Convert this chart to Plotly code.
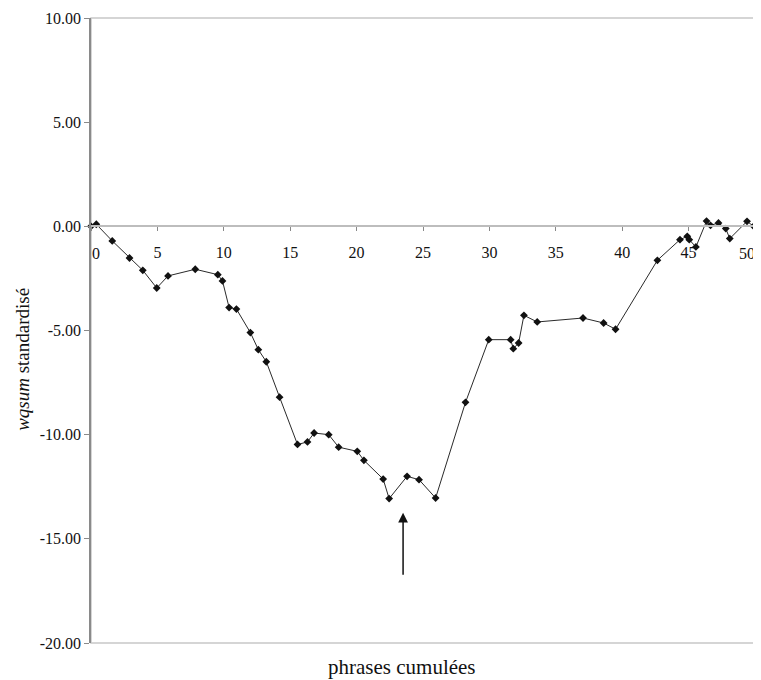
import plotly.graph_objects as go

x_vals = [0.0, 0.4, 1.6, 2.9, 3.9, 4.95, 5.8, 7.85, 9.55, 9.9, 10.4, 10.95, 12.0, 12.6, 13.2, 14.2,
          15.55, 16.3, 16.8, 17.9, 18.65, 20.05, 20.55, 22.0, 22.45, 23.8, 24.7, 25.95, 28.2,
          29.95, 31.6, 31.8, 32.2, 32.6, 33.6, 37.05, 38.6, 39.5, 42.65, 44.35, 44.9, 45.05,
          45.55, 46.35, 46.65, 47.25, 47.8, 48.1, 49.4, 49.9]
y_vals = [0.0, 0.1, -0.7, -1.52, -2.11, -2.96, -2.38, -2.06, -2.32, -2.62, -3.9, -3.97, -5.1, -5.92,
          -6.5, -8.2, -10.47, -10.35, -9.92, -10.0, -10.6, -10.8, -11.23, -12.13, -13.07, -12.0,
          -12.16, -13.04, -8.45, -5.44, -5.44, -5.87, -5.6, -4.27, -4.59, -4.4, -4.64, -4.94,
          -1.63, -0.64, -0.48, -0.64, -0.99, 0.25, 0.05, 0.16, -0.11, -0.59, 0.24, 0.0]

x_ticks = [0, 5, 10, 15, 20, 25, 30, 35, 40, 45, 50]
y_ticks = [10, 5, 0, -5, -10, -15, -20]
arrow_x = 23.5
arrow_tail_y = -16.8
arrow_head_y = -13.75

font = "'Liberation Serif', 'Times New Roman', serif"

fig = go.Figure()
fig.add_trace(go.Scatter(
    x=x_vals, y=y_vals, mode="lines+markers",
    line=dict(color="#2a2a2a", width=1),
    marker=dict(symbol="diamond", size=6, color="#111111"),
    showlegend=False, cliponaxis=False,
))

fig.add_annotation(
    x=arrow_x, y=arrow_head_y, ax=arrow_x, ay=arrow_tail_y,
    xref="x", yref="y", axref="x", ayref="y",
    showarrow=True, arrowhead=2, arrowsize=1.3, arrowwidth=1.5, arrowcolor="#111111", text="",
)

# frame
fig.add_shape(type="rect", xref="paper", yref="paper", x0=0, x1=1, y0=0, y1=1,
              line=dict(color="#c8c8c8", width=1.5), layer="below")

# end tick labels placed inside the plot edges (as in the reference)
fig.add_annotation(x=x_ticks[0], y=0, xref="x", yref="y", xanchor="left", yanchor="middle",
                   yshift=-27, xshift=-1, text=str(x_ticks[0]), showarrow=False,
                   font=dict(family=font, size=16, color="#111111"))
fig.add_annotation(x=x_ticks[-1], y=0, xref="x", yref="y", xanchor="right", yanchor="middle",
                   yshift=-27, xshift=2, text=str(x_ticks[-1]), showarrow=False,
                   font=dict(family=font, size=16, color="#111111"))

fig.add_annotation(x=0.468, y=-0.038, xref="paper", yref="paper", xanchor="center", yanchor="middle",
                   text="phrases cumulées", showarrow=False,
                   font=dict(family=font, size=21, color="#111111"))
fig.add_annotation(x=-0.103, y=0.454, xref="paper", yref="paper", xanchor="center", yanchor="middle",
                   textangle=-90, text="<i>wqsum</i> standardisé", showarrow=False,
                   font=dict(family=font, size=19, color="#111111"))

fig.update_layout(
    width=753, height=672,
    margin=dict(l=83, r=6, t=10, b=37, autoexpand=False),
    paper_bgcolor="white", plot_bgcolor="white",
    font=dict(family=font, color="#111111"),
    xaxis=dict(
        range=[0, 50], tickvals=x_ticks,
        ticktext=[""] + [str(v) for v in x_ticks[1:-1]] + [""],
        showgrid=False, zeroline=False, showline=True, linecolor="#bdbdbd", linewidth=1.5,
        ticks="outside", ticklen=4, tickcolor="#888888",
        anchor="free", position=20 / 30,
        tickfont=dict(family=font, size=16, color="#111111"),
        ticklabelstandoff=8,
    ),
    yaxis=dict(
        range=[-20, 10], tickvals=y_ticks, ticktext=[f"{v:.2f}" for v in y_ticks],
        showgrid=False, zeroline=False, showline=True, linecolor="#8a8a8a", linewidth=1.5,
        ticks="outside", ticklen=5, tickcolor="#8a8a8a",
        tickfont=dict(family=font, size=16, color="#111111"),
    ),
)

fig.write_html("out.html")
